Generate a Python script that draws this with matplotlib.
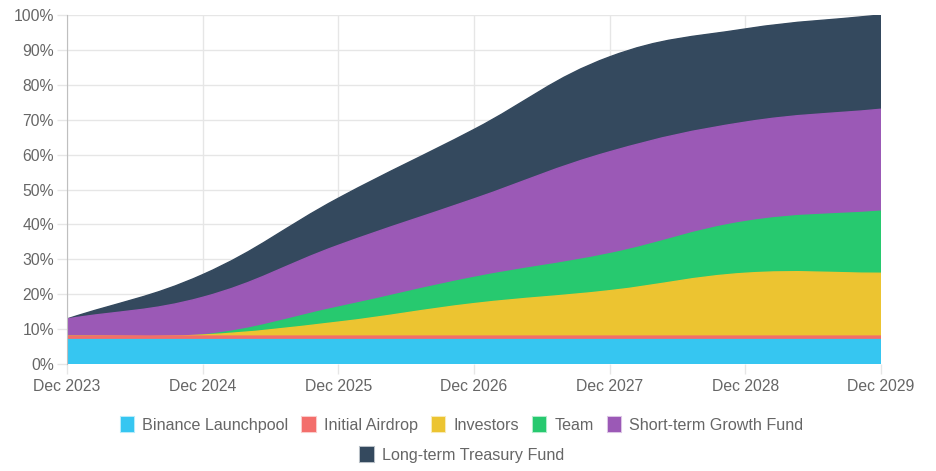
import numpy as np
import matplotlib
matplotlib.use("Agg")
import matplotlib.pyplot as plt
from matplotlib.path import Path
from matplotlib.patches import PathPatch, Rectangle

plt.rcParams['font.family'] = ['Liberation Sans', 'DejaVu Sans']

# data: share of total supply unlocked (%) per allocation, at each December
labels = ['Dec 2023', 'Dec 2024', 'Dec 2025', 'Dec 2026', 'Dec 2027', 'Dec 2028', 'Dec 2029']
binance = [7, 7, 7, 7, 7, 7, 7]
airdrop = [1, 1, 1, 1, 1, 1, 1]
investors = [0, 0.3, 4, 9.3, 13, 18, 18]
team = [0, 0, 4.3, 7.5, 10.6, 14.8, 17.8]
short_term = [4.9, 10.8, 17.7, 22.5, 29.2, 28.5, 29.2]
long_term = [0, 6.5, 13.5, 19.9, 27.2, 26.7, 27]

names = ['Binance Launchpool', 'Initial Airdrop', 'Investors', 'Team',
         'Short-term Growth Fund', 'Long-term Treasury Fund']
series = [binance, airdrop, investors, team, short_term, long_term]
colors = ['#36C6F1', '#F36E6B', '#ECC431', '#27C96F', '#9B59B6', '#34495E']

fig = plt.figure(figsize=(9.36, 4.71), dpi=100)
ax = fig.add_axes([67 / 936, 1 - 364 / 471, 814 / 936, 349 / 471])
x = np.arange(len(labels))
ax.set_xlim(0, len(labels) - 1)
ax.set_ylim(0, 100)


def spline_path(xs, ys, tension=0.4):
    # chart.js style bezier smoothing, computed in pixel space
    pts = ax.transData.transform(np.column_stack([xs, ys]))
    n = len(pts)
    prev_cp = np.zeros_like(pts)
    next_cp = np.zeros_like(pts)
    top = ax.transData.transform((0, 100))[1]
    bot = ax.transData.transform((0, 0))[1]
    for i in range(n):
        p = pts[i - 1] if i > 0 else pts[i]
        c = pts[i]
        nx = pts[i + 1] if i < n - 1 else pts[i]
        d01 = np.hypot(*(c - p))
        d12 = np.hypot(*(nx - c))
        tot = d01 + d12
        s01 = d01 / tot if tot else 0
        s12 = d12 / tot if tot else 0
        prev_cp[i] = c - tension * s01 * (nx - p)
        next_cp[i] = c + tension * s12 * (nx - p)
    prev_cp[:, 1] = np.clip(prev_cp[:, 1], bot, top)
    next_cp[:, 1] = np.clip(next_cp[:, 1], bot, top)
    inv = ax.transData.inverted()
    pts, prev_cp, next_cp = inv.transform(pts), inv.transform(prev_cp), inv.transform(next_cp)
    verts = [pts[0]]
    for i in range(n - 1):
        verts += [next_cp[i], prev_cp[i + 1], pts[i + 1]]
    return verts


cum = np.cumsum(np.array(series, dtype=float), axis=0)

# draw top dataset first so the lower ones sit on top (fill to origin)
for i in range(len(series) - 1, -1, -1):
    curve = spline_path(x, cum[i])
    codes = [Path.MOVETO] + [Path.CURVE4] * (len(curve) - 1)
    verts = curve + [(x[-1], 0), (x[0], 0), curve[0]]
    codes = codes + [Path.LINETO, Path.LINETO, Path.CLOSEPOLY]
    ax.add_patch(PathPatch(Path(verts, codes), facecolor=colors[i],
                           edgecolor='none', zorder=2 + (len(series) - i)))
    ax.add_patch(PathPatch(Path(curve, [Path.MOVETO] + [Path.CURVE4] * (len(curve) - 1)),
                           facecolor='none', edgecolor=colors[i], lw=1,
                           zorder=2 + (len(series) - i)))

ax.set_xticks(x)
ax.set_xticklabels(labels)
ax.set_yticks(np.arange(0, 101, 10))
ax.set_yticklabels(['%d%%' % v for v in range(0, 101, 10)])
ax.grid(True, color='#e6e6e6', lw=1, zorder=0)
ax.set_axisbelow(True)
for s in ['top', 'right', 'bottom']:
    ax.spines[s].set_visible(False)
ax.spines['left'].set_color('#bfbfbf')
ax.spines['left'].set_zorder(20)
ax.tick_params(axis='both', colors='#e6e6e6', labelcolor='#666666',
               labelsize=11.3, length=7.5, width=1)
ax.tick_params(axis='y', pad=2)
ax.tick_params(axis='x', pad=3)

# legend rows centred like chart.js
handles = [Rectangle((0, 0), 1, 1, facecolor=c, edgecolor=matplotlib.colors.to_rgba(c, 0.35), lw=1.5)
           for c in colors]
kw = dict(frameon=False, fontsize=11.6, handlelength=0.85, handleheight=1.05,
          handletextpad=0.5, columnspacing=0.85, labelcolor='#666666',
          loc='center', borderaxespad=0, borderpad=0)
fig.legend(handles[:5], names[:5], ncol=5, bbox_to_anchor=(0.4936, 1 - 425 / 471), **kw)
fig.legend(handles[5:], names[5:], ncol=1, bbox_to_anchor=(0.4936, 1 - 455 / 471), **kw)

fig.savefig('out.png', dpi=100)
